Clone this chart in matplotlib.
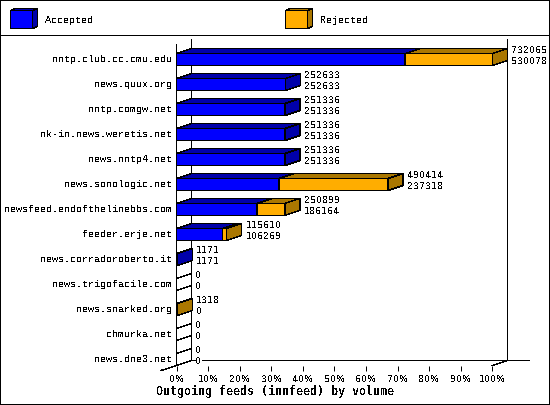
import matplotlib
matplotlib.use('Agg')
import matplotlib.pyplot as plt
from matplotlib.patches import Polygon, Rectangle
from matplotlib.transforms import ScaledTranslation

# Datos
servidores = ['nntp.club.cc.cmu.edu', 'news.quux.org', 'nntp.comgw.net', 'nk-in.news.weretis.net',
              'news.nntp4.net', 'news.sonologic.net', 'newsfeed.endofthelinebbs.com', 'feeder.erje.net',
              'news.corradoroberto.it', 'news.trigofacile.com', 'news.snarked.org', 'chmurka.net', 'news.dne3.net']
total = [732065, 252633, 251336, 251336, 251336, 490414, 250899, 115610, 1171, 0, 1318, 0, 0]
aceptados = [530078, 252633, 251336, 251336, 251336, 237318, 186164, 106269, 1171, 0, 0, 0, 0]
ticks_pct = [0, 10, 20, 30, 40, 50, 60, 70, 80, 90, 100]
titulo = 'Outgoing feeds (innfeed) by volume'

AZUL, AZUL_OSC = '#0000ff', '#0000aa'
NARANJA, NARANJA_OSC = '#ffad00', '#aa7700'
LW = 0.28  # linea fina: sin antialias cualquier pixel tocado se pinta entero
W, H = 550, 405
EDGE = dict(ec='black', lw=LW, aa=False, snap=False)
NUMEROS = dict(family='DejaVu Sans', fontsize=6.8)  # el cero sin punto

plt.rcParams['text.antialiased'] = False
plt.rcParams['text.hinting'] = 'native'
plt.rcParams['font.family'] = 'Liberation Mono'
fig = plt.figure(figsize=(W / 100, H / 100), dpi=100)

# Capa en pixeles para el marco y la leyenda
fondo = fig.add_axes([0, 0, 1, 1])
fondo.set_xlim(0, W)
fondo.set_ylim(H, 0)
fondo.axis('off')
fondo.add_patch(Rectangle((0.5, 0.5), W - 1, H - 1, fc='white', **EDGE))
fondo.plot([0, W], [35.5, 35.5], color='black', lw=LW, aa=False, snap=False)


def caja_leyenda(x, cara, oscuro, texto):
    fondo.add_patch(Polygon([(x, 10.5), (x + 5, 8.5), (x + 27, 8.5), (x + 22, 10.5)], fc=oscuro, **EDGE))
    fondo.add_patch(Polygon([(x + 22, 10.5), (x + 27, 8.5), (x + 27, 26.5), (x + 22, 28.5)], fc=oscuro, **EDGE))
    fondo.add_patch(Rectangle((x, 10.5), 22, 18, fc=cara, **EDGE))
    fondo.text(x + 34.5, 20.5, texto, fontsize=7.2, va='center', ha='left')


caja_leyenda(10.5, AZUL, AZUL_OSC, 'Accepted')
caja_leyenda(285.5, NARANJA, NARANJA_OSC, 'Rejected')

# Ejes principales: x en % del maximo, y en indice de categoria
ax = fig.add_axes([176.7 / W, 1 - 365.75 / H, 315.5 / W, 312.5 / H])
ax.patch.set_visible(False)
ax.set_xlim(0, 100)
ax.set_ylim(12.25, -0.25)
for s in ax.spines.values():
    s.set_visible(False)
ax.set_xticks(ticks_pct)
ax.set_xticklabels([f'{t}%' for t in ticks_pct], **NUMEROS)
ax.set_yticks(range(len(servidores)))
ax.set_yticklabels(servidores, fontsize=7.2)
ax.tick_params(axis='x', length=3.6, width=0.72, pad=2.3)
ax.tick_params(axis='y', length=0, pad=3)
subir = ScaledTranslation(0, 1 / 100, fig.dpi_scale_trans)
for etiqueta in ax.get_yticklabels():
    etiqueta.set_transform(etiqueta.get_transform() + subir)

DX = 15 / 3.155  # profundidad en unidades de x
DY = 0.2         # profundidad en unidades de y
MEDIO = 0.24
maximo = max(total)


def linea(xs, ys, z=1):
    ax.plot(xs, ys, color='black', lw=LW, aa=False, snap=False, clip_on=False, zorder=z)


def poligono(puntos, color, z):
    ax.add_patch(Polygon(puntos, fc=color, clip_on=False, zorder=z, **EDGE))


# Paredes del grafico
arriba = -0.58
abajo = 12.24
linea([0, 0], [arriba, abajo], 1)
linea([DX, DX], [arriba - DY, abajo - DY], 1)
linea([100 + DX, 100 + DX], [arriba - DY, abajo - DY], 1)
linea([DX, 111.7], [abajo - DY, abajo - DY], 1)
linea([-5, 0], [abajo + DY, abajo], 1)
linea([100, 100 + DX], [abajo, abajo - DY], 1)

for i, (tot, acep) in enumerate(zip(total, aceptados)):
    sup, inf = i - MEDIO, i + MEDIO
    z = 2 + i
    x_acep = acep / maximo * 100
    x_tot = tot / maximo * 100
    if tot == 0:
        # Fila vacia: solo las dos lineas sobre la pared izquierda
        linea([0, DX], [sup, sup - DY], z)
        linea([0, DX], [inf, inf - DY], z)
    else:
        if x_tot > x_acep:
            oscuro = NARANJA_OSC
            poligono([(x_acep, sup), (x_acep + DX, sup - DY), (x_tot + DX, sup - DY), (x_tot, sup)], oscuro, z)
            poligono([(x_tot, sup), (x_tot + DX, sup - DY), (x_tot + DX, inf - DY), (x_tot, inf)], oscuro, z)
            poligono([(x_acep, sup), (x_tot, sup), (x_tot, inf), (x_acep, inf)], NARANJA, z)
        else:
            poligono([(x_tot, sup), (x_tot + DX, sup - DY), (x_tot + DX, inf - DY), (x_tot, inf)], AZUL_OSC, z)
        if acep > 0:
            poligono([(0, sup), (DX, sup - DY), (x_acep + DX, sup - DY), (x_acep, sup)], AZUL_OSC, z)
            poligono([(0, sup), (x_acep, sup), (x_acep, inf), (0, inf)], AZUL, z)
    # Etiquetas de valores a la derecha de la caja
    x_txt = x_tot + DX + 1.3
    caja = dict(fc='white', ec='none', pad=0)
    ax.text(x_txt, i - 0.38, str(tot), va='center', ha='left', zorder=30, bbox=caja, clip_on=False, **NUMEROS)
    ax.text(x_txt, i + 0.06, str(acep), va='center', ha='left', zorder=30, bbox=caja, clip_on=False, **NUMEROS)

fondo.text(274.5, 392, titulo, family='DejaVu Sans Mono', fontsize=8.4, fontweight='bold', ha='center', va='center')

fig.savefig('out.png', dpi=100)
